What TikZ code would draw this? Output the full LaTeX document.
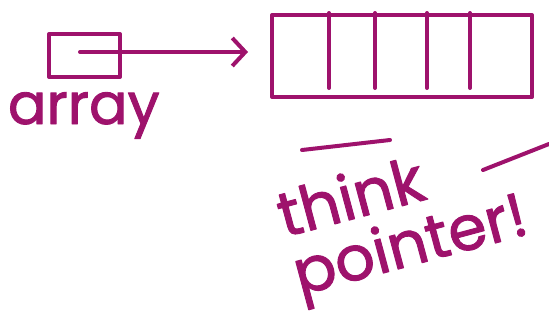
\documentclass[tikz,border=0pt]{standalone}
\usepackage{fontspec}
\setmainfont{Poppins}
\newfontfamily\handfont{Poppins}[FakeBold=1.6]
\usepackage{tikz}
\usetikzlibrary{positioning,arrows.meta}
\usepackage{xcolor}
\definecolor{ink}{RGB}{158,18,108}

\begin{document}
\begin{tikzpicture}[
x=1pt,y=-1pt,
line width=4pt,
line cap=round,
line join=round,
ink,
>={Straight Barb[length=13pt,width=28pt,line width=4pt]},
box/.style={
draw,
rectangle,
inner sep=0pt,
anchor=north west
},
hand/.style={
text=ink,
inner sep=0pt,
align=left
}
]
\useasboundingbox (0,0) rectangle (549,332);

\node[box,minimum width=71pt,minimum height=43pt] (ptr) at (47,32) {};
\node[box,minimum width=260pt,minimum height=82pt] (arr) at (270,13) {};
\node[hand,anchor=base west,font=\handfont\fontsize{57}{57}\selectfont] (lbl) at (6,124) {array};

\foreach \cx in {329,375,427,470}
\draw (\cx,13) -- (\cx,88);

\coordinate (start) at (80,52);
\draw[->,shorten >=22pt] (start) -- (start -| arr.west);

\node[hand,anchor=base west,rotate=15,font=\handfont\fontsize{62}{60}\selectfont] (think) at (298,296) {think\\[0pt]pointer!};

\draw (302,150) -- (390,140);
\draw (483,170) -- (549,144);

\end{tikzpicture}
\end{document}
